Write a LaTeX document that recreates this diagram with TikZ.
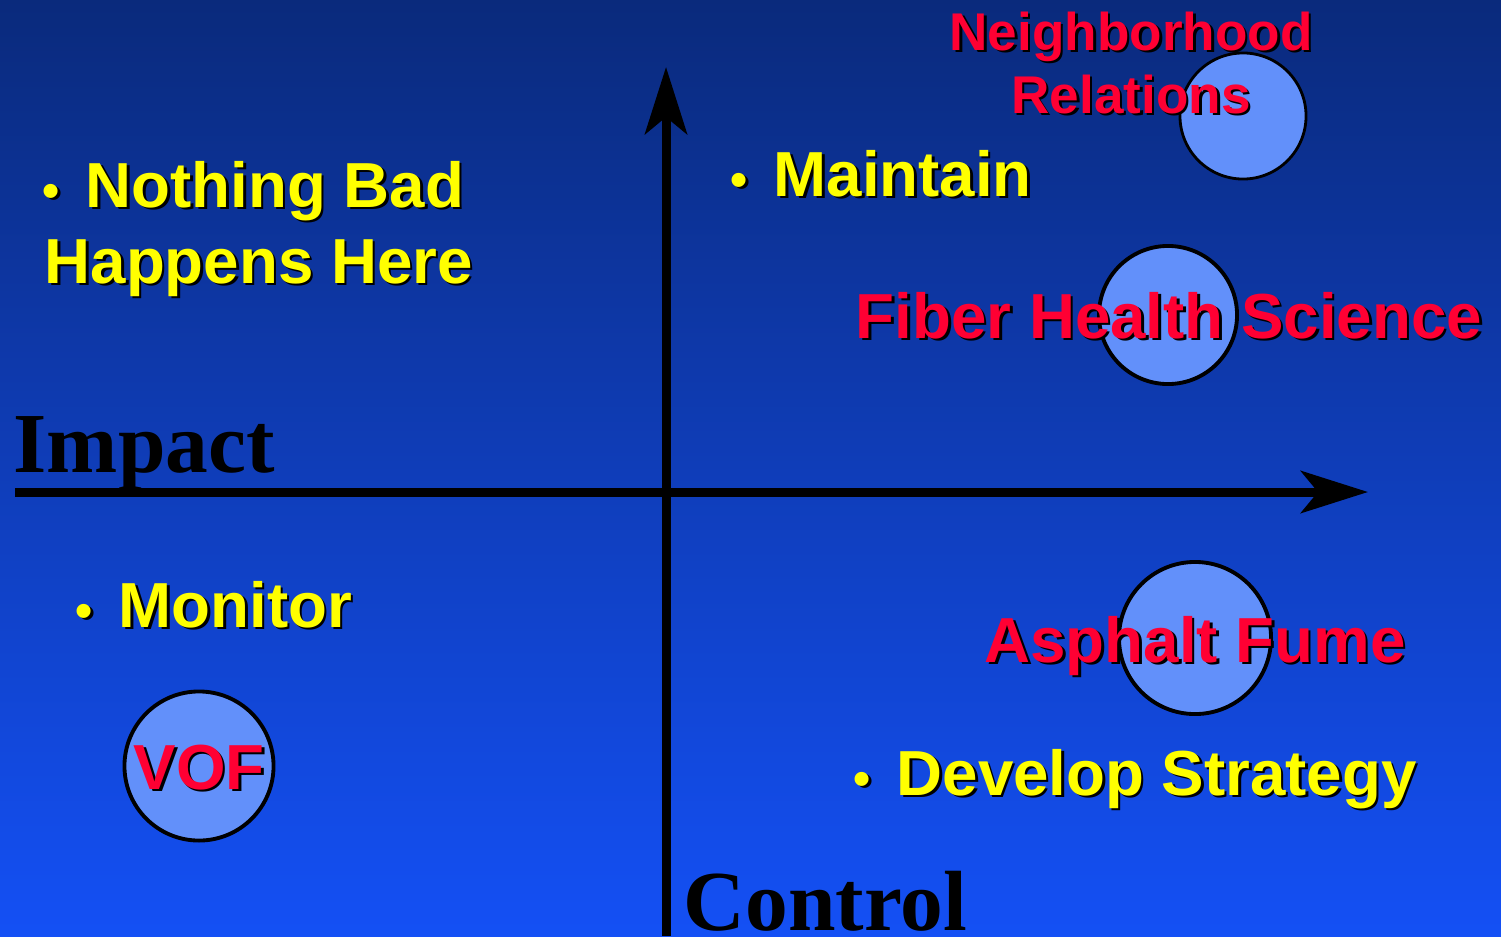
\documentclass[tikz,border=0pt]{standalone}
\usepackage{fontspec}
\setmainfont{Liberation Sans}
\newfontfamily\axisfont{Liberation Serif}
\usetikzlibrary{arrows.meta}
\usepackage{xcolor}
\definecolor{bgTop}{RGB}{10,42,124}
\definecolor{bgBottom}{RGB}{20,80,245}
\definecolor{noteYellow}{RGB}{255,255,0}
\definecolor{issueRed}{RGB}{255,0,51}
\definecolor{bubbleFill}{RGB}{98,144,250}
\newlength\pxu
\setlength\pxu{0.01cm}
% text with a black drop shadow
\newcommand\shd[1]{\leavevmode\rlap{\kern0.7pt\raisebox{-0.7pt}{\color{black}#1}}#1}
% small bullet in front of an item
\newcommand\bul{\makebox[43\pxu][l]{\shd{\fontsize{13.9}{14}\selectfont\textbullet}}}
\tikzset{
    BulletText/.style={font=\fontsize{18.1}{21}\selectfont\bfseries, text=noteYellow, anchor=base west, inner sep=0pt},
    IssueText/.style={font=\fontsize{18.1}{21}\selectfont\bfseries, text=issueRed, anchor=base, inner sep=0pt},
    SmallIssueText/.style={IssueText, font=\fontsize{15.1}{17}\selectfont\bfseries},
    AxisText/.style={font=\axisfont\fontsize{24.3}{28}\selectfont\bfseries, anchor=base west, inner sep=0pt},
    Bubble/.style={circle, draw=black, fill=bubbleFill, line width=1.1pt, inner sep=0pt},
    AxisArrow/.style={-{Stealth[length=0.67cm, width=0.42cm, inset=0.17cm]}, line width=0.09cm}
}

\begin{document}
\begin{tikzpicture}[x=0.01cm, y=-0.01cm]
    \useasboundingbox (0,0) rectangle (1501,936);
    \shade[top color=bgTop, bottom color=bgBottom] (0,0) rectangle (1501,936);

    % axes
    \coordinate (impactFrom) at (15,492);
    \coordinate (impactTo) at (1368,492);
    \coordinate (controlFrom) at (666,936);
    \coordinate (controlTo) at (666,67);
    \draw[AxisArrow] (impactFrom) -- (impactTo);
    \draw[AxisArrow] (controlFrom) -- (controlTo);
    \node[AxisText] (impact) at (13,472) {Impact};
    \node[AxisText] (control) at (683,930) {Control};

    % bubbles
    \node[Bubble, minimum size=1.26cm, line width=0.8pt] (nrBubble) at (1243,116) {};
    \node[Bubble, minimum size=1.38cm] (fhBubble) at (1168,315) {};
    \node[Bubble, minimum size=1.52cm] (afBubble) at (1195,638) {};
    \node[Bubble, minimum size=1.49cm] (vofBubble) at (199,766) {};

    % issues
    \node[SmallIssueText] (nbhd) at (1131,50) {\shd{Neighborhood}};
    \node[SmallIssueText] (relations) at (1131,113) {\shd{Relations}};
    \node[IssueText] (fiber) at (1169,338) {\shd{Fiber Health Science}};
    \node[IssueText] (asphalt) at (1195,662) {\shd{Asphalt Fume}};
    \node[IssueText] (vof) at (199,789) {\shd{VOF}};

    % quadrant notes
    \node[BulletText] (nothing) at (42,207) {\bul\shd{Nothing Bad}};
    \node[BulletText] (happens) at (44,283) {\shd{Happens Here}};
    \node[BulletText] (maintain) at (730,196) {\bul\shd{Maintain}};
    \node[BulletText] (monitor) at (75,627) {\bul\shd{Monitor}};
    \node[BulletText] (develop) at (853,795) {\bul\shd{Develop Strategy}};
\end{tikzpicture}
\end{document}
